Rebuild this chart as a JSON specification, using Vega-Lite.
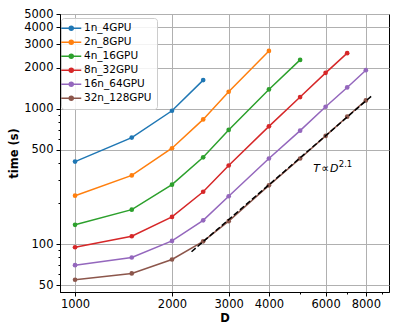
{
  "$schema": "https://vega.github.io/schema/vega-lite/v6.json",
  "width": 329,
  "height": 278,
  "autosize": "none",
  "padding": {"left": 60, "top": 14, "right": 10, "bottom": 40},
  "background": "white",
  "config": {
    "font": "DejaVu Sans",
    "view": {"stroke": "#000", "strokeWidth": 1},
    "axis": {
      "domainColor": "#000",
      "tickColor": "#000",
      "labelColor": "#000",
      "labelFontSize": 11.5,
      "labelFont": "DejaVu Sans",
      "titleFont": "DejaVu Sans",
      "titleFontSize": 11.5,
      "titleFontWeight": "bold",
      "titleColor": "#000",
      "gridColor": "#b0b0b0",
      "gridWidth": 1
    }
  },
  "datasets": {
    "runs": [
      {"run": "1n_4GPU", "D": 1000, "time": 407},
      {"run": "1n_4GPU", "D": 1500, "time": 612},
      {"run": "1n_4GPU", "D": 2000, "time": 966},
      {"run": "1n_4GPU", "D": 2500, "time": 1626},
      {"run": "2n_8GPU", "D": 1000, "time": 228},
      {"run": "2n_8GPU", "D": 1500, "time": 322},
      {"run": "2n_8GPU", "D": 2000, "time": 511},
      {"run": "2n_8GPU", "D": 2500, "time": 834},
      {"run": "2n_8GPU", "D": 3000, "time": 1334},
      {"run": "2n_8GPU", "D": 4000, "time": 2670},
      {"run": "4n_16GPU", "D": 1000, "time": 139},
      {"run": "4n_16GPU", "D": 1500, "time": 180},
      {"run": "4n_16GPU", "D": 2000, "time": 275},
      {"run": "4n_16GPU", "D": 2500, "time": 438},
      {"run": "4n_16GPU", "D": 3000, "time": 697},
      {"run": "4n_16GPU", "D": 4000, "time": 1387},
      {"run": "4n_16GPU", "D": 5000, "time": 2293},
      {"run": "8n_32GPU", "D": 1000, "time": 95},
      {"run": "8n_32GPU", "D": 1500, "time": 114.5},
      {"run": "8n_32GPU", "D": 2000, "time": 159},
      {"run": "8n_32GPU", "D": 2500, "time": 244},
      {"run": "8n_32GPU", "D": 3000, "time": 381},
      {"run": "8n_32GPU", "D": 4000, "time": 741},
      {"run": "8n_32GPU", "D": 5000, "time": 1219},
      {"run": "8n_32GPU", "D": 6000, "time": 1839},
      {"run": "8n_32GPU", "D": 7000, "time": 2570},
      {"run": "16n_64GPU", "D": 1000, "time": 70},
      {"run": "16n_64GPU", "D": 1500, "time": 79.8},
      {"run": "16n_64GPU", "D": 2000, "time": 105.7},
      {"run": "16n_64GPU", "D": 2500, "time": 150},
      {"run": "16n_64GPU", "D": 3000, "time": 226},
      {"run": "16n_64GPU", "D": 4000, "time": 429},
      {"run": "16n_64GPU", "D": 5000, "time": 689},
      {"run": "16n_64GPU", "D": 6000, "time": 1034},
      {"run": "16n_64GPU", "D": 7000, "time": 1435},
      {"run": "16n_64GPU", "D": 8000, "time": 1924},
      {"run": "32n_128GPU", "D": 1000, "time": 54.7},
      {"run": "32n_128GPU", "D": 1500, "time": 60.9},
      {"run": "32n_128GPU", "D": 2000, "time": 77.1},
      {"run": "32n_128GPU", "D": 2500, "time": 105},
      {"run": "32n_128GPU", "D": 3000, "time": 148},
      {"run": "32n_128GPU", "D": 4000, "time": 272},
      {"run": "32n_128GPU", "D": 5000, "time": 429},
      {"run": "32n_128GPU", "D": 6000, "time": 630},
      {"run": "32n_128GPU", "D": 7000, "time": 873},
      {"run": "32n_128GPU", "D": 8000, "time": 1151}
    ],
    "fit": [
      {"D": 2300, "time": 88},
      {"D": 8400, "time": 1262}
    ],
    "note": [
      {"D": 5495, "time": 344, "label": "T\u200a\u221d\u200aD"}
    ],
    "sup": [
      {"D": 6590, "time": 374, "label": "2.1"}
    ]
  },
  "layer": [
    {
      "data": {"name": "runs"},
      "mark": {"type": "line", "strokeWidth": 1.5},
      "encoding": {
        "x": {
          "field": "D", "type": "quantitative",
          "scale": {"type": "log", "domain": [898, 9440], "nice": false},
          "axis": {
            "title": "D",
            "values": [1000, 2000, 3000, 4000, 5000, 6000, 7000, 8000, 9000],
            "labelExpr": "indexof([1000,2000,3000,4000,6000,8000], datum.value) >= 0 ? format(datum.value, 'd') : ''",
            "tickSize": {"condition": {"test": "indexof([1000,2000,3000,4000,6000,8000], datum.value) >= 0", "value": 4}, "value": 2},
            "gridOpacity": {"condition": {"test": "indexof([1000,2000,3000,4000,6000,8000], datum.value) >= 0", "value": 1}, "value": 0},
            "labelPadding": 2,
            "titlePadding": 3,
            "labelFlush": false
          }
        },
        "y": {
          "field": "time", "type": "quantitative",
          "scale": {"type": "log", "domain": [44.4, 5000], "nice": false},
          "axis": {
            "title": "time (s)",
            "values": [50, 60, 70, 80, 90, 100, 200, 300, 400, 500, 600, 700, 800, 900, 1000, 2000, 3000, 4000, 5000],
            "labelExpr": "indexof([50,100,500,1000,2000,3000,4000,5000], datum.value) >= 0 ? format(datum.value, 'd') : ''",
            "tickSize": {"condition": {"test": "indexof([50,100,500,1000,2000,3000,4000,5000], datum.value) >= 0", "value": 4}, "value": 2},
            "gridOpacity": {"condition": {"test": "indexof([50,100,500,1000,2000,3000,4000,5000], datum.value) >= 0", "value": 1}, "value": 0},
            "labelPadding": 3,
            "titlePadding": 4,
            "labelFlush": false
          }
        },
        "color": {
          "field": "run", "type": "nominal",
          "scale": {
            "domain": ["1n_4GPU", "2n_8GPU", "4n_16GPU", "8n_32GPU", "16n_64GPU", "32n_128GPU"],
            "range": ["#1f77b4", "#ff7f0e", "#2ca02c", "#d62728", "#9467bd", "#8c564b"]
          },
          "legend": {
            "title": null,
            "orient": "none",
            "legendX": 1,
            "legendY": 4,
            "strokeColor": "#cccccc",
            "fillColor": "rgba(255,255,255,0.85)",
            "cornerRadius": 3,
            "padding": 5,
            "labelFontSize": 10.5,
            "labelFont": "DejaVu Sans",
            "labelColor": "#000",
            "labelOffset": 7.5,
            "rowPadding": 3,
            "symbolType": "M-2.36,0L2.36,0M-0.47,0A0.47,0.47,0,1,0,0.47,0A0.47,0.47,0,1,0,-0.47,0Z",
            "symbolSize": 72,
            "symbolStrokeWidth": 1.5,
            "encode": {
              "symbols": {
                "update": {
                  "fill": {"scale": "color", "field": "value"},
                  "stroke": {"scale": "color", "field": "value"},
                  "fillOpacity": {"value": 1},
                  "strokeOpacity": {"value": 1}
                }
              }
            }
          }
        }
      }
    },
    {
      "data": {"name": "runs"},
      "mark": {"type": "point", "filled": true, "size": 22, "opacity": 1},
      "encoding": {
        "x": {"field": "D", "type": "quantitative"},
        "y": {"field": "time", "type": "quantitative"},
        "color": {"field": "run", "type": "nominal", "legend": null}
      }
    },
    {
      "data": {"name": "fit"},
      "mark": {"type": "line", "color": "#000", "strokeWidth": 1.5, "strokeDash": [5.5, 2.5]},
      "encoding": {
        "x": {"field": "D", "type": "quantitative"},
        "y": {"field": "time", "type": "quantitative"}
      }
    },
    {
      "data": {"name": "note"},
      "mark": {"type": "text", "align": "left", "baseline": "alphabetic", "font": "DejaVu Sans", "fontStyle": "italic", "fontSize": 11, "color": "#000"},
      "encoding": {
        "x": {"field": "D", "type": "quantitative"},
        "y": {"field": "time", "type": "quantitative"},
        "text": {"field": "label"}
      }
    },
    {
      "data": {"name": "sup"},
      "mark": {"type": "text", "align": "left", "baseline": "alphabetic", "font": "DejaVu Sans", "fontSize": 8.5, "color": "#000"},
      "encoding": {
        "x": {"field": "D", "type": "quantitative"},
        "y": {"field": "time", "type": "quantitative"},
        "text": {"field": "label"}
      }
    }
  ]
}
